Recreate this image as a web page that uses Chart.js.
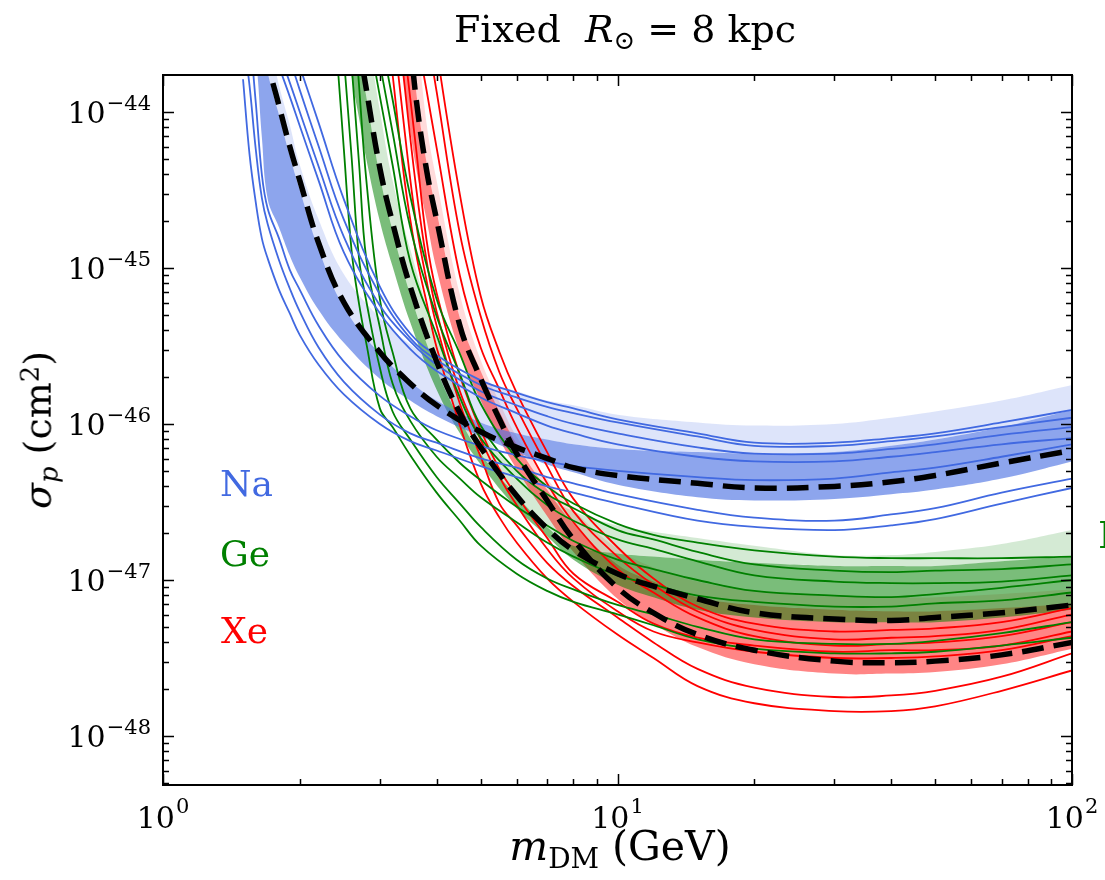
<!DOCTYPE html>
<html>
<head>
<meta charset="utf-8">
<script src="https://cdn.jsdelivr.net/npm/chart.js@4.4.1/dist/chart.umd.min.js"></script>
<style>
body { margin: 0; background: #fff; overflow: hidden; }
#wrap { position: relative; width: 1105px; height: 880px; font-family: "DejaVu Serif", serif; color: #000; }
canvas { position: absolute; left: 0; top: 0; }
.lbl { position: absolute; white-space: nowrap; line-height: 1; }
.lbl sub { font-size: 0.68em; vertical-align: -0.28em; }
.lbl sup { font-size: 0.68em; vertical-align: 0.45em; }
</style>
</head>
<body>
<div id="wrap">
  <canvas id="myChart" width="1105" height="880"></canvas>
  <div class="lbl" style="left:625px; top:10px; font-size:38px; transform:translateX(-50%);">Fixed&nbsp; <i>R</i><sub>⊙</sub> = 8 kpc</div>
  <div class="lbl" style="left:620px; top:826px; font-size:41px; transform:translateX(-50%);"><i>m</i><sub>DM</sub> (GeV)</div>
  <div class="lbl" style="left:40px; top:430px; font-size:38px; transform:translate(-50%,-50%) rotate(-90deg);"><i>σ<sub>p</sub></i> (cm<sup>2</sup>)</div>
  <div class="lbl" style="left:220px; top:466px; font-size:36px; color:#4169e1;">Na</div>
  <div class="lbl" style="left:220px; top:536px; font-size:36px; color:#008000;">Ge</div>
  <div class="lbl" style="left:221px; top:613px; font-size:36px; color:#ff0000;">Xe</div>
  <div class="lbl" style="left:1098px; top:516px; font-size:38px; color:#008000;">D</div>
</div>
<script>
// all curve values are log10(sigma_p / cm^2)
const naMass = [1.5, 1.55, 1.6, 1.65, 1.7, 1.8, 1.9, 2.0, 2.2, 2.5, 3, 3.5, 4, 5, 6, 7, 8, 10, 15, 20, 30, 40, 50, 70, 100];
const naDash = [-42.6, -42.9, -43.2, -43.45, -43.68, -43.96, -44.22, -44.44, -44.84, -45.22, -45.54, -45.74, -45.88, -46.05, -46.15, -46.22, -46.28, -46.33, -46.38, -46.41, -46.40, -46.37, -46.33, -46.25, -46.17];
const naBandLo = [-43.2, -43.45, -43.65, -44.16, -44.56, -44.74, -44.92, -45.06, -45.27, -45.48, -45.71, -45.85, -45.95, -46.08, -46.18, -46.26, -46.31, -46.39, -46.47, -46.49, -46.48, -46.45, -46.42, -46.35, -46.24];
const naBandHi = [-42.7, -43.0, -43.3, -43.55, -43.75, -44.02, -44.28, -44.50, -44.88, -45.25, -45.55, -45.73, -45.85, -45.99, -46.06, -46.10, -46.13, -46.16, -46.18, -46.19, -46.18, -46.14, -46.10, -46.02, -45.91];
const naLight = [-42.5, -42.8, -43.1, -43.3, -43.5, -43.83, -44.08, -44.34, -44.69, -45.04, -45.32, -45.49, -45.60, -45.72, -45.79, -45.85, -45.88, -45.94, -45.99, -46.01, -46.0, -45.96, -45.92, -45.85, -45.75];
const naA = [-43.79, -44.27, -44.58, -44.81, -44.94, -45.14, -45.29, -45.43, -45.62, -45.81, -46.0, -46.11, -46.17, -46.27, -46.34, -46.40, -46.44, -46.51, -46.62, -46.66, -46.68, -46.65, -46.61, -46.51, -46.41];
const naB = [-43.5, -43.83, -44.24, -44.55, -44.72, -44.95, -45.13, -45.28, -45.51, -45.73, -45.94, -46.06, -46.12, -46.22, -46.28, -46.34, -46.38, -46.45, -46.55, -46.60, -46.62, -46.58, -46.54, -46.44, -46.35];
const naC = [-43.2, -43.5, -43.94, -44.40, -44.62, -44.81, -45.01, -45.14, -45.37, -45.60, -45.82, -45.95, -46.04, -46.14, -46.20, -46.24, -46.27, -46.30, -46.34, -46.36, -46.35, -46.31, -46.28, -46.21, -46.13];
const naD = [-43.05, -43.17, -43.29, -43.41, -43.51, -43.71, -43.90, -44.09, -44.44, -44.90, -45.29, -45.52, -45.66, -45.83, -45.93, -46.01, -46.06, -46.13, -46.21, -46.24, -46.24, -46.21, -46.18, -46.13, -46.09];
const naE = [-42.96, -43.08, -43.20, -43.32, -43.42, -43.62, -43.81, -44.0, -44.35, -44.80, -45.24, -45.47, -45.62, -45.79, -45.88, -45.95, -46.0, -46.06, -46.15, -46.19, -46.19, -46.16, -46.13, -46.07, -46.02];
const naF = [-42.78, -42.90, -43.03, -43.15, -43.25, -43.46, -43.66, -43.86, -44.22, -44.69, -45.17, -45.45, -45.59, -45.75, -45.83, -45.89, -45.93, -45.99, -46.08, -46.14, -46.14, -46.11, -46.08, -46.02, -45.96];
const naG = [-42.7, -42.8, -42.9, -43.0, -43.1, -43.29, -43.51, -43.71, -44.07, -44.56, -45.12, -45.42, -45.56, -45.72, -45.80, -45.86, -45.90, -45.97, -46.06, -46.12, -46.12, -46.09, -46.06, -45.99, -45.91];

const geMass = [2.3, 2.4, 2.5, 2.6, 2.7, 2.8, 3.0, 3.2, 3.5, 4, 4.5, 5, 6, 7, 8, 10, 12, 15, 20, 30, 40, 50, 70, 100];
const geDash = [-42.1, -42.5, -42.9, -43.24, -43.57, -43.85, -44.36, -44.71, -45.12, -45.60, -45.93, -46.15, -46.46, -46.67, -46.81, -46.96, -47.04, -47.12, -47.21, -47.25, -47.26, -47.24, -47.21, -47.16];
const geBandLo = [-42.5, -42.9, -43.3, -43.77, -44.04, -44.30, -44.70, -44.99, -45.35, -45.78, -46.06, -46.26, -46.54, -46.72, -46.87, -47.03, -47.11, -47.19, -47.24, -47.27, -47.27, -47.27, -47.24, -47.19];
const geBandHi = [-42.2, -42.6, -43.0, -43.3, -43.62, -43.90, -44.41, -44.76, -45.17, -45.65, -45.97, -46.19, -46.46, -46.66, -46.78, -46.83, -46.85, -46.87, -46.89, -46.91, -46.91, -46.91, -46.88, -46.85];
const geLight = [-42.0, -42.3, -42.6, -42.9, -43.19, -43.46, -43.99, -44.44, -44.88, -45.44, -45.79, -46.04, -46.31, -46.46, -46.56, -46.65, -46.69, -46.73, -46.78, -46.84, -46.84, -46.82, -46.77, -46.68];
const geA = [-42.85, -43.54, -44.24, -44.89, -45.23, -45.48, -45.90, -46.02, -46.20, -46.44, -46.62, -46.78, -46.96, -47.07, -47.14, -47.22, -47.29, -47.38, -47.44, -47.47, -47.47, -47.46, -47.42, -47.37];
const geB = [-42.5, -42.95, -43.65, -44.29, -44.94, -45.21, -45.64, -45.92, -46.10, -46.34, -46.51, -46.66, -46.87, -46.99, -47.06, -47.16, -47.22, -47.30, -47.38, -47.41, -47.41, -47.39, -47.34, -47.27];
const geC = [-42.2, -42.6, -43.05, -43.70, -44.33, -44.94, -45.38, -45.74, -45.98, -46.21, -46.35, -46.47, -46.63, -46.76, -46.85, -46.97, -47.03, -47.10, -47.14, -47.17, -47.17, -47.15, -47.13, -47.08];
const geD = [-42.0, -42.3, -42.7, -43.19, -43.83, -44.43, -45.20, -45.54, -45.90, -46.10, -46.25, -46.36, -46.53, -46.65, -46.75, -46.87, -46.93, -47.0, -47.07, -47.10, -47.11, -47.09, -47.05, -47.0];
const geE = [-42.0, -42.2, -42.4, -42.7, -43.18, -43.42, -43.90, -44.34, -44.96, -45.43, -45.83, -46.09, -46.35, -46.52, -46.62, -46.74, -46.80, -46.88, -46.97, -47.01, -47.02, -47.02, -47.01, -46.97];
const geF = [-42.0, -42.2, -42.4, -42.7, -43.0, -43.22, -43.69, -44.13, -44.74, -45.31, -45.68, -46.01, -46.30, -46.45, -46.54, -46.68, -46.74, -46.82, -46.90, -46.94, -46.95, -46.94, -46.93, -46.90];
const geG = [-41.8, -42.0, -42.2, -42.5, -42.8, -43.0, -43.49, -43.92, -44.54, -45.20, -45.55, -45.87, -46.22, -46.40, -46.51, -46.64, -46.71, -46.76, -46.81, -46.85, -46.86, -46.86, -46.86, -46.85];

const xeMass = [3.0, 3.2, 3.4, 3.6, 3.8, 4.0, 4.5, 5, 5.5, 6, 7, 8, 10, 12, 15, 20, 30, 40, 50, 70, 100];
const xeDash = [-42.3, -42.7, -43.2, -43.90, -44.37, -44.69, -45.37, -45.71, -45.97, -46.19, -46.49, -46.74, -47.05, -47.21, -47.35, -47.45, -47.52, -47.53, -47.52, -47.48, -47.40];
const xeBandLo = [-42.5, -43.09, -43.83, -44.35, -44.69, -45.01, -45.54, -45.85, -46.10, -46.29, -46.59, -46.82, -47.12, -47.28, -47.43, -47.54, -47.60, -47.60, -47.59, -47.54, -47.44];
const xeBandHi = [-42.2, -42.6, -43.1, -43.85, -44.32, -44.64, -45.32, -45.66, -45.92, -46.13, -46.42, -46.64, -46.90, -47.01, -47.11, -47.16, -47.19, -47.20, -47.20, -47.18, -47.15];
const xeLight = [-42.0, -42.4, -42.8, -43.41, -44.07, -44.44, -45.17, -45.59, -45.86, -46.08, -46.35, -46.55, -46.80, -46.92, -47.01, -47.07, -47.10, -47.11, -47.11, -47.09, -47.06];
const xeA = [-43.06, -43.76, -44.44, -44.90, -45.22, -45.51, -46.01, -46.38, -46.60, -46.76, -46.99, -47.14, -47.35, -47.50, -47.68, -47.79, -47.84, -47.84, -47.81, -47.71, -47.58];
const xeB = [-42.7, -43.42, -44.12, -44.70, -45.08, -45.37, -45.87, -46.21, -46.51, -46.65, -46.89, -47.04, -47.24, -47.40, -47.57, -47.69, -47.75, -47.74, -47.71, -47.62, -47.47];
const xeC = [-42.5, -43.12, -43.83, -44.47, -44.95, -45.28, -45.79, -46.10, -46.34, -46.52, -46.80, -46.99, -47.20, -47.33, -47.40, -47.46, -47.50, -47.50, -47.49, -47.45, -47.36];
const xeD = [-42.4, -42.93, -43.60, -44.22, -44.82, -45.16, -45.69, -46.04, -46.29, -46.46, -46.73, -46.96, -47.14, -47.28, -47.37, -47.42, -47.46, -47.45, -47.45, -47.42, -47.33];
const xeE = [-41.9, -42.2, -42.5, -42.8, -43.1, -43.60, -44.53, -45.18, -45.54, -45.80, -46.18, -46.48, -46.79, -46.99, -47.17, -47.28, -47.33, -47.32, -47.31, -47.27, -47.18];
const xeF = [-42.0, -42.3, -42.6, -43.07, -43.48, -43.87, -44.78, -45.31, -45.67, -45.90, -46.27, -46.56, -46.85, -47.03, -47.20, -47.32, -47.38, -47.37, -47.36, -47.32, -47.22];
const xeG = [-42.2, -42.5, -42.9, -43.47, -43.86, -44.23, -45.05, -45.51, -45.78, -46.02, -46.38, -46.63, -46.93, -47.08, -47.24, -47.36, -47.42, -47.41, -47.40, -47.36, -47.27];

// axis ticks
const xTicks = [1, 10, 100];
const yTicks = [1e-48, 1e-47, 1e-46, 1e-45, 1e-44];
const xMin = 1, xMax = 100;
const yMin = Math.pow(10, -48.314), yMax = Math.pow(10, -43.763);

function expText(v) {
  return String(Math.round(Math.log10(v))).replace('-', '\u2212');
}

function pts(mass, logs) {
  return mass.map((m, i) => ({ x: m, y: Math.pow(10, logs[i]) }));
}

let datasets = [];
function add(ds) {
  datasets.push(Object.assign({
    pointRadius: 0, pointHoverRadius: 0, clip: 0,
    tension: 0.4, capBezierPoints: false, fill: false
  }, ds));
  return datasets.length - 1;
}

const groups = [
  { mass: naMass, lo: naBandLo, hi: naBandHi, light: naLight, dash: naDash, lines: [naA, naB, naC, naD, naE, naF, naG], rgb: '65,105,225', dark: 0.6, pale: 0.18 },
  { mass: geMass, lo: geBandLo, hi: geBandHi, light: geLight, dash: geDash, lines: [geA, geB, geC, geD, geE, geF, geG], rgb: '0,128,0', dark: 0.52, pale: 0.17 },
  { mass: xeMass, lo: xeBandLo, hi: xeBandHi, light: xeLight, dash: xeDash, lines: [xeA, xeB, xeC, xeD, xeE, xeF, xeG], rgb: '255,0,0', dark: 0.48, pale: 0.14 }
];

groups.forEach(g => {
  let lo = add({ data: pts(g.mass, g.lo), borderWidth: 0, borderColor: 'transparent', order: 4 });
  let hi = add({ data: pts(g.mass, g.hi), borderWidth: 0, borderColor: 'transparent', order: 3,
    fill: lo, backgroundColor: `rgba(${g.rgb},${g.dark})` });
  add({ data: pts(g.mass, g.light), borderWidth: 0, borderColor: 'transparent', order: 5,
    fill: hi, backgroundColor: `rgba(${g.rgb},${g.pale})` });
});
groups.forEach(g => {
  g.lines.forEach(l => add({ data: pts(g.mass, l), borderColor: `rgb(${g.rgb})`, borderWidth: 1.8, order: 1 }));
});
groups.forEach(g => {
  add({ data: pts(g.mass, g.dash), borderColor: '#000', borderWidth: 5.5, borderDash: [22, 10], order: 0 });
});

// box, inward ticks and 10^n labels like the original
const frameTicks = {
  id: 'frameTicks',
  afterDraw(chart) {
    const { ctx, chartArea: a } = chart;
    const x = chart.scales.x, y = chart.scales.y;
    ctx.save();
    ctx.strokeStyle = '#000';
    ctx.lineWidth = 1.5;
    ctx.beginPath();
    for (let e = -49; e <= -44; e++) {
      for (let k = 1; k < 10; k++) {
        let v = k * Math.pow(10, e);
        if (v < yMin || v > yMax) continue;
        let py = Math.round(y.getPixelForValue(v)) + 0.5;
        let len = k == 1 ? 11 : 6;
        ctx.moveTo(a.left, py); ctx.lineTo(a.left + len, py);
        ctx.moveTo(a.right, py); ctx.lineTo(a.right - len, py);
      }
    }
    for (let e = 0; e <= 2; e++) {
      for (let k = 1; k < 10; k++) {
        let v = k * Math.pow(10, e);
        if (v < xMin || v > xMax) continue;
        let px = Math.round(x.getPixelForValue(v)) + 0.5;
        let len = k == 1 ? 11 : 6;
        ctx.moveTo(px, a.bottom); ctx.lineTo(px, a.bottom - len);
        ctx.moveTo(px, a.top); ctx.lineTo(px, a.top + len);
      }
    }
    ctx.stroke();
    ctx.lineWidth = 2;
    ctx.strokeRect(a.left, a.top, a.right - a.left, a.bottom - a.top);

    // tick labels: "10" plus a raised exponent
    const base = '30px "DejaVu Serif"', small = '21px "DejaVu Serif"';
    ctx.fillStyle = '#000';
    ctx.textAlign = 'left';
    ctx.textBaseline = 'alphabetic';
    yTicks.forEach(v => {
      let py = y.getPixelForValue(v);
      let ex = expText(v);
      ctx.font = small; let ew = ctx.measureText(ex).width;
      ctx.font = base; let bw = ctx.measureText('10').width;
      let right = a.left - 12;
      ctx.fillText('10', right - ew - bw - 1, py + 11);
      ctx.font = small; ctx.fillText(ex, right - ew, py - 2);
    });
    xTicks.forEach(v => {
      let px = x.getPixelForValue(v);
      let ex = expText(v);
      ctx.font = small; let ew = ctx.measureText(ex).width;
      ctx.font = base; let bw = ctx.measureText('10').width;
      let left = px - (bw + ew + 1) / 2;
      ctx.fillText('10', left, a.bottom + 43);
      ctx.font = small; ctx.fillText(ex, left + bw + 1, a.bottom + 28);
    });
    ctx.restore();
  }
};

new Chart(document.getElementById('myChart'), {
  type: 'line',
  data: { datasets: datasets },
  options: {
    responsive: false,
    devicePixelRatio: 1,
    animation: false,
    events: [],
    layout: { padding: { left: 0, right: 33, top: 75, bottom: 0 } },
    plugins: { legend: { display: false }, tooltip: { enabled: false }, title: { display: false } },
    scales: {
      x: {
        type: 'logarithmic', min: xMin, max: xMax,
        afterBuildTicks: s => { s.ticks = xTicks.map(v => ({ value: v })); },
        afterFit: s => { s.height = 95; },
        grid: { display: false }, border: { display: false },
        ticks: { display: false }
      },
      y: {
        type: 'logarithmic', min: yMin, max: yMax,
        afterBuildTicks: s => { s.ticks = yTicks.map(v => ({ value: v })); },
        afterFit: s => { s.width = 163; },
        grid: { display: false }, border: { display: false },
        ticks: { display: false }
      }
    }
  },
  plugins: [frameTicks]
});
</script>
</body>
</html>
